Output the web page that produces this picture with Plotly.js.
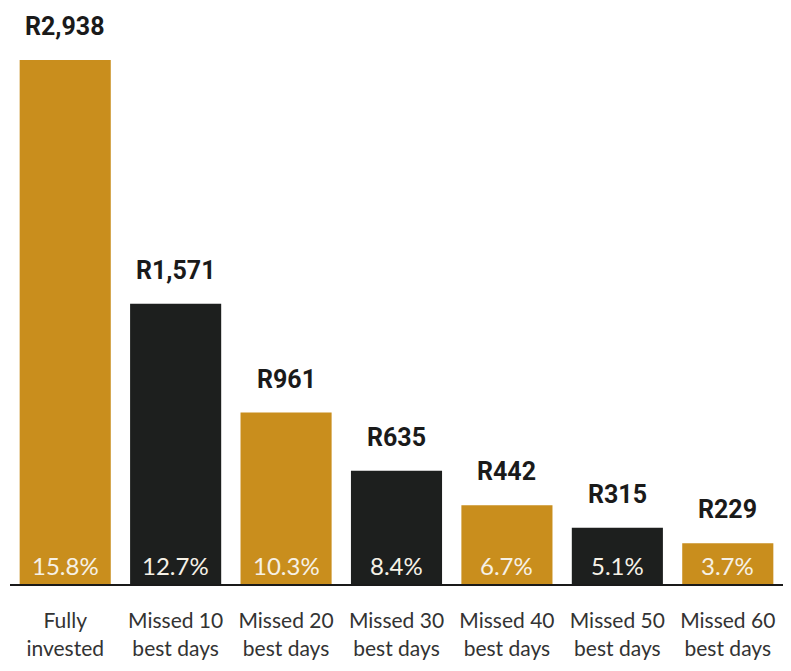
<!DOCTYPE html>
<html><head><meta charset="utf-8">
<script src="https://cdn.plot.ly/plotly-3.0.1.min.js"></script>
<style>body{margin:0;background:#fff}#c{width:791px;height:671px}</style>
</head><body><div id="c"></div>
<script>
var categories = ["Fully<br>invested","Missed 10<br>best days","Missed 20<br>best days","Missed 30<br>best days","Missed 40<br>best days","Missed 50<br>best days","Missed 60<br>best days"];
var values = [2938, 1571, 961, 635, 442, 315, 229];
var valueLabels = ["R2,938","R1,571","R961","R635","R442","R315","R229"];
var returns = ["15.8%","12.7%","10.3%","8.4%","6.7%","5.1%","3.7%"];
var gold = "#C98E1D", dark = "#1D1F1E";
var colors = categories.map(function(_, i){ return i % 2 === 0 ? gold : dark; });

var ann = [];
categories.forEach(function(c, i){
  ann.push({x: c, y: values[i], text: valueLabels[i], showarrow: false, yanchor: "bottom", yshift: 17,
    font: {family: "Roboto, Lato, sans-serif", size: 25, color: "#1a1a1a", weight: 700}});
  ann.push({x: c, y: 0, text: returns[i], showarrow: false, yanchor: "bottom", yshift: 2,
    font: {family: "Lato, sans-serif", size: 24, color: "#F6F1E6"}});
});

Plotly.newPlot("c", [{
  type: "bar", x: categories, y: values,
  marker: {color: colors, line: {width: 0}},
  hoverinfo: "skip"
}], {
  width: 791, height: 671,
  margin: {l: 10, r: 8, t: 0, b: 87},
  paper_bgcolor: "#fff", plot_bgcolor: "#fff",
  bargap: 0.175,
  showlegend: false,
  xaxis: {showline: true, linecolor: "#1a1a1a", linewidth: 2, ticks: "", showgrid: false,
    ticklabelstandoff: 17,
    tickfont: {family: "Lato, sans-serif", size: 21, color: "#333"}, range: [-0.5, 6.5]},
  yaxis: {visible: false, range: [0, 3274], showgrid: false, zeroline: false},
  annotations: ann
}, {displayModeBar: false, staticPlot: true});
</script></body></html>
